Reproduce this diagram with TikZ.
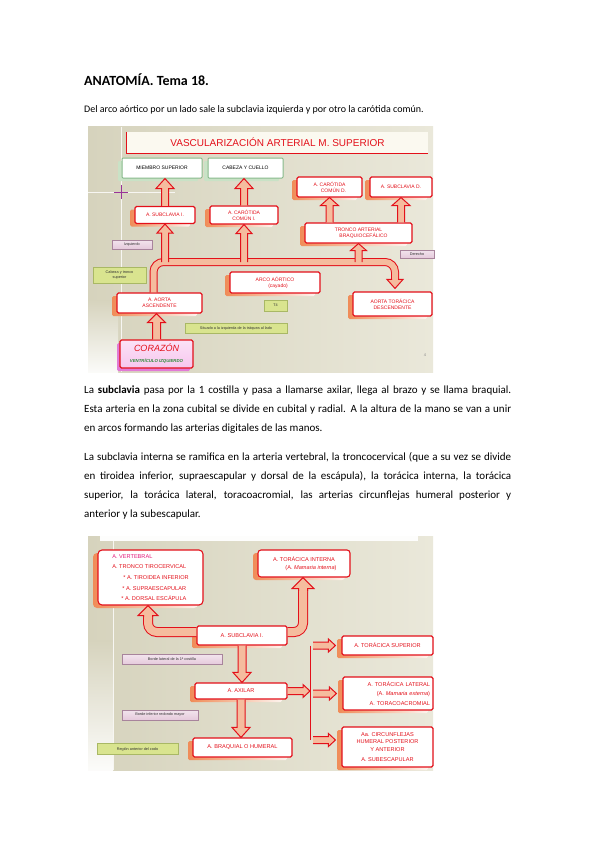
\documentclass[tikz,border=0pt]{standalone}
\usepackage{fontspec}
\setmainfont{Carlito}
\newfontfamily\bxf{Liberation Sans}
\usetikzlibrary{calc,shadows}
\definecolor{bgA}{HTML}{D6D3BD}
\definecolor{bgB}{HTML}{EAE8DA}
\definecolor{bred}{HTML}{E3101A}
\definecolor{afill}{HTML}{F5BC9E}
\definecolor{shor}{HTML}{F08C58}
\definecolor{gbord}{HTML}{86B98A}
\definecolor{gshad}{HTML}{C9E2C6}
\definecolor{glab}{HTML}{D9E48F}
\definecolor{glabd}{HTML}{A9B865}
\definecolor{plab}{HTML}{E5C9DB}
\definecolor{plabd}{HTML}{A8849C}
\definecolor{corf}{HTML}{F7C6EE}
\definecolor{cors}{HTML}{E27AD6}
\definecolor{magt}{HTML}{E2187A}
\definecolor{vgreen}{HTML}{2E8B3A}
\definecolor{tbar}{HTML}{FBF9F0}

\tikzset{
  rbox/.style={draw=bred, line width=1.1pt, fill=white, rounded corners=1.5pt, inner sep=0.5pt,
    text=bred, align=center, font=\bxf\fontsize{5}{6.2}\selectfont,
    general shadow={left color=shor, right color=shor!10, shadow xshift=-5pt, shadow yshift=-3pt, draw=none}},
  rboxb/.style={rbox, font=\bxf\fontsize{5.6}{7}\selectfont},
  gbox/.style={draw=gbord, line width=1pt, fill=white, rounded corners=1pt, inner sep=0.5pt,
    text=black, align=center, font=\bxf\fontsize{5}{6.2}\selectfont,
    general shadow={fill=gshad, shadow xshift=-4pt, shadow yshift=-3pt, draw=none}},
  cbox/.style={draw=bred, line width=1.1pt, top color=corf!50!white, bottom color=corf, rounded corners=1.5pt,
    inner sep=0.5pt, text=bred, align=center, font=\bxf,
    general shadow={fill=cors, shadow xshift=-3pt, shadow yshift=-3pt, draw=none}},
  plabel/.style={draw=plabd, line width=0.4pt, top color=plab!50!white, bottom color=plab, inner sep=0pt,
    font=\bxf\fontsize{3.8}{4.5}\selectfont, text=black!80, align=center},
  glabel/.style={draw=glabd, line width=0.4pt, fill=glab, inner sep=0pt,
    font=\bxf\fontsize{3.8}{4.5}\selectfont, text=black!80, align=center},
  fat/.style={draw=bred, line width=1pt, fill=afill, line join=miter},
  bandA/.style={draw=bred, line width=1pt, double=afill, double distance=6pt},
  bandB/.style={draw=bred, line width=1pt, double=afill, double distance=8pt},
  txt/.style={anchor=base west, inner sep=0pt, font=\fontsize{11}{13}\selectfont},
}

% vertical fat arrow: from, to, shaft half width, head half width, head length
\newcommand\vfat[5]{%
  \path[fat] let \p1=(#1), \p2=(#2), \n1={sign(\y2-\y1)} in
   (\x1-#3pt,\y1) -- (\x1-#3pt,{\y2-(\n1)*#5pt}) -- (\x1-#4pt,{\y2-(\n1)*#5pt}) -- (\x1,\y2)
   -- (\x1+#4pt,{\y2-(\n1)*#5pt}) -- (\x1+#3pt,{\y2-(\n1)*#5pt}) -- (\x1+#3pt,\y1);}
% horizontal fat arrow
\newcommand\hfat[5]{%
  \path[fat] let \p1=(#1), \p2=(#2), \n1={sign(\x2-\x1)} in
   (\x1,\y1-#3pt) -- ({\x2-(\n1)*#5pt},\y1-#3pt) -- ({\x2-(\n1)*#5pt},\y1-#4pt) -- (\x2,\y1)
   -- ({\x2-(\n1)*#5pt},\y1+#4pt) -- ({\x2-(\n1)*#5pt},\y1+#3pt) -- (\x1,\y1+#3pt);}

\begin{document}
\begin{tikzpicture}[x=1pt,y=-1pt]
\useasboundingbox (0,0) rectangle (599,848);
\fill[white] (0,0) rectangle (599,848);

% ---------------- page text ----------------
\node[anchor=base west, inner sep=0pt, font=\fontsize{14}{16}\selectfont\bfseries] (title) at (84,86) {ANATOMÍA. Tema 18.};
\node[txt, font=\fontsize{10}{12}\selectfont] (intro) at (84,113) {Del arco aórtico por un lado sale la subclavia izquierda y por otro la carótida común.};

\node[txt] (p1a) at (84,393) {\makebox[427pt][s]{La \textbf{subclavia} pasa por la 1 costilla y pasa a llamarse axilar, llega al brazo y se llama braquial.}};
\node[txt] (p1b) at (84,412) {\makebox[427pt][s]{Esta arteria en la zona cubital se divide en cubital y radial. A la altura de la mano se van a unir}};
\node[txt] (p1c) at (84,431) {en arcos formando las arterias digitales de las manos.};
\node[txt] (p2a) at (84,460) {\makebox[427pt][s]{La subclavia interna se ramifica en la arteria vertebral, la troncocervical (que a su vez se divide}};
\node[txt] (p2b) at (84,479) {\makebox[427pt][s]{en tiroidea inferior, supraescapular y dorsal de la escápula), la torácica interna, la torácica}};
\node[txt] (p2c) at (84,498) {\makebox[427pt][s]{superior, la torácica lateral, toracoacromial, las arterias circunflejas humeral posterior y}};
\node[txt] (p2d) at (84,517) {anterior y la subescapular.};

% ---------------- top diagram ----------------
\shade[left color=bgA, right color=bgB] (88,127) rectangle (433,372);
\shade[top color=bgA, bottom color=white!90!bgA] (88,300) rectangle (118,372);
\draw[white!80!bgA, line width=0.8pt] (121,127) -- (121,372);
\draw[white!80!bgA, line width=0.8pt] (88,192) -- (175,192);
\draw[violet!80, line width=0.6pt] (114,192) -- (128,192) (121,185) -- (121,199);

\node[fill=tbar, minimum width=301pt, minimum height=21pt, inner sep=0pt, text=bred,
      font=\bxf\fontsize{10}{11}\selectfont] (vtitle) at (277.5,142.5) {VASCULARIZACIÓN ARTERIAL M. SUPERIOR};
\draw[bred, line width=0.9pt] (vtitle.north west) -- (vtitle.south west) -- (vtitle.south east);

\node[gbox, minimum width=80pt, minimum height=20pt] (miem) at (162,168) {MIEMBRO SUPERIOR};
\node[gbox, minimum width=75pt, minimum height=20pt] (cab) at (245.5,168) {CABEZA Y CUELLO};
\node[rbox, minimum width=65pt, minimum height=20pt] (ccd) at (329.5,187) {A. CARÓTIDA\\\hspace*{8pt}COMÚN D.};
\node[rbox, minimum width=62pt, minimum height=20pt] (scd) at (401,187) {A. SUBCLAVIA D.};
\node[rbox, minimum width=60pt, minimum height=17pt] (sci) at (165,215) {A. SUBCLAVIA I.};
\node[rbox, minimum width=68pt, minimum height=18pt] (cci) at (244,215) {A. CARÓTIDA\\ COMÚN I.};
\node[rbox, minimum width=107pt, minimum height=20pt] (tab) at (358.5,233) {TRONCO ARTERIAL\\\hspace*{10pt}BRAQUIOCEFÁLICO};
\node[rbox, minimum width=90pt, minimum height=21pt] (arco) at (275,282.5) {ARCO AÓRTICO\\\hspace*{6pt}(cayado)};
\node[rbox, minimum width=79pt, minimum height=24pt] (atd) at (392.5,304) {AORTA TORÁCICA\\ DESCENDENTE};
\node[rbox, minimum width=85pt, minimum height=20pt] (aasc) at (159.5,303) {A. AORTA\\ ASCENDENTE};
\node[cbox, minimum width=73pt, minimum height=28pt] (cor) at (156.5,354)
  {{\fontsize{9}{10}\selectfont\itshape CORAZÓN}\\[-1pt]{\color{vgreen}\fontsize{4.3}{5}\selectfont\itshape\bfseries VENTRÍCULO IZQUIERDO}};

\node[plabel, minimum width=40pt, minimum height=9pt] (izq) at (132,244.5) {Izquierdo};
\node[plabel, minimum width=34pt, minimum height=8pt] (der) at (417,254) {Derecho};
\node[glabel, minimum width=53pt, minimum height=16pt] (ctl) at (119.5,275) {Cabeza y tronco\\superior};
\node[glabel, minimum width=23pt, minimum height=11pt] (t4) at (275.5,305.5) {T4};
\node[glabel, minimum width=102pt, minimum height=10pt] (simp) at (236,328) {Situado a la izquierda de la tráquea al lado};
\node[font=\bxf\fontsize{4}{4}\selectfont, text=black!45, inner sep=0pt] (pg) at (425,355) {4};

% arrows top
\vfat{sci.north}{miem.south}{3.5}{9}{10}
\vfat{cci.north}{cab.south}{3.5}{9}{10}
\vfat{ccd.south |- tab.north}{ccd.south}{3.5}{9}{8}
\vfat{scd.south |- tab.north}{scd.south}{3.5}{9}{8}

\coordinate (archL) at ($(aasc.north)+(-6,0)$);
\coordinate (archR) at ($(atd.north)+(2.5,-10)$);
\coordinate (archY) at (0,262);
\draw[bandA, rounded corners=10pt] (archL) |- (archY -| archR) -- (archR);
\vfat{$(archR)+(0,-1.5)$}{$(atd.north)+(2.5,-3)$}{3.5}{8}{9}
\vfat{sci.south |- archY}{sci.south}{3.5}{8}{9}
\vfat{cci.south |- archY}{cci.south}{3.5}{8}{9}
\vfat{tab.south |- archY}{tab.south}{3.5}{8}{7}
\vfat{cor.north}{aasc.south}{4}{9}{9}

% ---------------- bottom diagram ----------------
\shade[left color=bgA, right color=bgB] (88,536) rectangle (433,770);
\shade[top color=bgA, bottom color=white!92!bgA] (88,640) rectangle (113,770);
\fill[white!95!bgA] (100,536) rectangle (418,541);
\draw[white!80!bgA, line width=0.8pt] (113,541) -- (113,770);

\node[rboxb, rounded corners=4pt, minimum width=105pt, minimum height=55pt, align=left,
      font=\bxf\fontsize{5.6}{10.7}\selectfont] (vert) at (150.5,577.5)
  {{\color{magt}A. VERTEBRAL}\\
   A. TRONCO TIROCERVICAL\\
   \hspace*{11pt}* A. TIROIDEA INFERIOR\\
   \hspace*{10pt}* A. SUPRAESCAPULAR\\
   \hspace*{9pt}* A. DORSAL ESCÁPULA};
\node[rboxb, rounded corners=3pt, minimum width=92pt, minimum height=27pt,
      font=\bxf\fontsize{5.6}{8.5}\selectfont] (ti) at (304,563.5)
  {A. TORÁCICA INTERNA\\\hspace*{14pt}(A. \textit{Mamaria interna})};
\node[rboxb, minimum width=90pt, minimum height=19pt] (sci2) at (242,635.5) {A. SUBCLAVIA I.};
\node[rboxb, minimum width=92pt, minimum height=16pt] (ax) at (241,691) {A. AXILAR};
\node[rboxb, minimum width=99pt, minimum height=19pt] (braq) at (242.5,747.5) {A. BRAQUIAL O HUMERAL};
\node[rboxb, minimum width=91pt, minimum height=19pt] (tsup) at (387.5,645.5) {A. TORÁCICA SUPERIOR};
\node[rboxb, minimum width=90pt, minimum height=33pt, text width=84pt, align=right,
      font=\bxf\fontsize{5.6}{9.5}\selectfont] (tlat) at (388,693.5)
  {A. TORÁCICA LATERAL\\(A. \textit{Mamaria externa})\\A. TORACOACROMIAL};
\node[rboxb, minimum width=91pt, minimum height=40pt, font=\bxf\fontsize{5.6}{7.2}\selectfont] (circ) at (387.5,747)
  {Aa. CIRCUNFLEJAS\\HUMERAL POSTERIOR\\Y ANTERIOR\\[3pt]A. SUBESCAPULAR};

\node[plabel, minimum width=100pt, minimum height=10pt] (lab1) at (172,659.5) {Borde lateral de la 1ª costilla};
\node[plabel, minimum width=76pt, minimum height=10pt] (lab2) at (160,715) {Borde inferior redondo mayor};
\node[glabel, minimum width=81pt, minimum height=11pt] (lab3) at (137.5,749) {Región anterior del codo};

% arrows bottom
\vfat{sci2.south}{ax.north}{4}{9}{10}
\vfat{ax.south}{braq.north}{4}{9}{10}

\coordinate (brx) at (310,0);
\coordinate (b1) at (tsup.west -| brx);
\coordinate (b2) at (tlat.west -| brx);
\coordinate (b3) at ($(circ.west -| brx)+(0,-7)$);
\draw[bred, line width=1pt] (b1) -- (b3);
\hfat{ax.east}{ax.east -| brx}{3.5}{6.5}{7}
\hfat{$(b1)+(3,0)$}{$(tsup.west)+(-6,0)$}{3.5}{6.5}{7}
\hfat{$(b2)+(3,0)$}{$(tlat.west)+(-6,0)$}{3.5}{6.5}{7}
\hfat{$(b3)+(3,0)$}{$(circ.west |- b3)+(-6,0)$}{3.5}{6.5}{7}

\coordinate (lcA) at ($(sci2.west)+(0,-3.5)$);
\coordinate (lcB) at (148,616);
\draw[bandB, rounded corners=9pt] (lcA) -| (lcB);
\vfat{$(lcB)+(0,1)$}{vert.south -| lcB}{4.5}{10}{10}

\coordinate (rcA) at ($(sci2.east)+(0,-3.5)$);
\coordinate (rcB) at (303,590);
\draw[bandB, rounded corners=9pt] (rcA) -| (rcB);
\vfat{$(rcB)+(0,1)$}{ti.south -| rcB}{4.5}{11}{11}

\end{tikzpicture}
\end{document}
